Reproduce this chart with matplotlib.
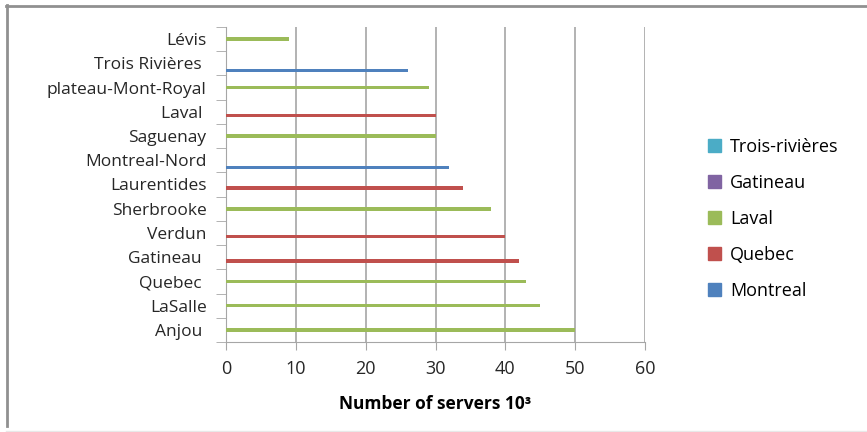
import numpy as np
import matplotlib; matplotlib.use("Agg")
import matplotlib.pyplot as plt
from matplotlib.lines import Line2D
from matplotlib.patches import Patch

plt.rcParams['font.family'] = ['Open Sans', 'DejaVu Sans']

# categories bottom -> top
cities = ["Anjou ", "LaSalle", "Quebec ", "Gatineau ", "Verdun", "Sherbrooke", "Laurentides",
          "Montreal-Nord", "Saguenay", "Laval ", "plateau-Mont-Royal", "Trois Rivières ", "Lévis"]
series = ["Montreal", "Quebec", "Laval", "Gatineau", "Trois-rivières"]
colors = ["#4F81BD", "#C0504D", "#9BBB59", "#8064A2", "#4BACC6"]
montreal = [0, 0, 0, 0, 0, 0, 0, 32, 0, 0, 0, 26, 0]
quebec   = [0, 0, 0, 42, 40, 0, 34, 0, 0, 30, 0, 0, 0]
laval    = [50, 45, 43, 0, 0, 38, 0, 0, 30, 0, 29, 0, 9]
gatineau = [0] * 13
trois    = [0] * 13
values = [montreal, quebec, laval, gatineau, trois]

fig = plt.figure(figsize=(8.67, 4.32), dpi=100)
ax = fig.add_axes([226/867, 1-342/432, (645-226)/867, (342-27)/432])

y = np.arange(len(cities))
w = 0.15
for i, (name, vals, c) in enumerate(zip(series, values, colors)):
    ax.barh(y + (i - 2) * w, vals, height=w, color=c, linewidth=0, zorder=3)

ax.set_xlim(0, 60)
ax.set_ylim(-0.5, len(cities) - 0.5)
ax.set_xticks(range(0, 61, 10))
ax.set_yticks(y)
ax.set_yticklabels(cities, fontsize=12.5, color="#262626")
ax.set_yticks(np.arange(-0.5, len(cities), 1), minor=True)
ax.tick_params(axis="y", which="major", length=0, pad=14)
ax.tick_params(axis="y", which="minor", length=7, color="#A6A6A6", direction="out")
ax.tick_params(axis="x", length=6, color="#A6A6A6", labelsize=13, labelcolor="#262626", pad=7)
ax.grid(axis="x", color="#A6A6A6", lw=1.2, zorder=0)
for s in ["top", "right"]:
    ax.spines[s].set_visible(False)
for s in ["left", "bottom"]:
    ax.spines[s].set_color("#A6A6A6")
ax.set_xlabel("Number of servers 10³", fontsize=12.5, fontweight="bold", labelpad=12)

handles = [Patch(color=c, label=n) for n, c in zip(series, colors)][::-1]
fig.legend(handles=handles, loc="center left", bbox_to_anchor=(692/867, 1-219/432),
           frameon=False, fontsize=13, handlelength=0.7, handleheight=0.7,
           labelspacing=1.0, handletextpad=0.5)

# outer chart frame
fig.add_artist(Line2D([6/867, 866/867], [1-5.5/432, 1-5.5/432], color="#909090", lw=2))
fig.add_artist(Line2D([6.5/867, 6.5/867], [1-5/432, 1-426/432], color="#909090", lw=2))
fig.add_artist(Line2D([6/867, 866/867], [1-430.5/432, 1-430.5/432], color="#E8E8E8", lw=1))

fig.savefig("out.png", dpi=100)
